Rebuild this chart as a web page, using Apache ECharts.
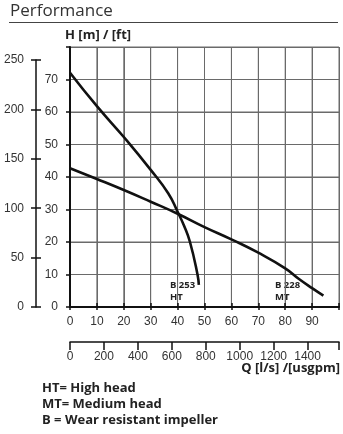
<!DOCTYPE html>
<html>
<head>
<meta charset="utf-8">
<script src="https://cdn.jsdelivr.net/npm/echarts@6/dist/echarts.min.js"></script>
<style>
  html, body { margin: 0; padding: 0; background: #fff; }
  #chart { width: 343px; height: 434px; }
</style>
</head>
<body>
<div id="chart"></div>
<script>
// Pump performance curves: head H [m] against flow Q [l/s]
const htFlow = [0, 10, 20, 30, 36.5, 40, 42.4, 44.6, 47.4, 47.9];
const htHead = [72.1, 61.8, 52.3, 42.2, 35, 29.3, 25, 20, 10, 6.8];

const mtFlow = [0, 10, 20, 30, 40, 50, 60, 70, 80, 85, 90, 94.2];
const mtHead = [42.7, 39.4, 36.0, 32.4, 28.7, 24.6, 20.8, 16.7, 11.9, 8.7, 5.8, 3.5];

// Tick labels of the four scales
const flowTicks = [0, 10, 20, 30, 40, 50, 60, 70, 80, 90];
const headTicks = [0, 10, 20, 30, 40, 50, 60, 70];
const feetTicks = [0, 50, 100, 150, 200, 250];
const gpmTicks = [0, 200, 400, 600, 800, 1000, 1200, 1400];

const flowMax = 100;            // l/s
const headMax = 80;             // m
const gpmMax = flowMax * 15.85; // usgpm at the same right edge
const feetMax = 250;            // ft at the top of the feet scale

const tickFont = { fontFamily: 'Liberation Sans', fontSize: 12, color: '#333' };
const ink = '#111';
const gridGrey = '#6a6a6a';

const pairs = (xs, ys) => xs.map((x, i) => [x, ys[i]]);
// show only the listed tick labels, as plain numbers
const onlyTicks = list => v => (list.indexOf(Math.round(v)) >= 0 && Math.abs(v - Math.round(v)) < 1e-6 ? String(Math.round(v)) : '');

// grid lines of the plot, every 10 l/s and every 10 m (the axes themselves cover 0)
const flowGrid = flowTicks.slice(1).concat([flowMax]);
const headGrid = headTicks.slice(1).concat([headMax]);
const gridSeries = [
  ...flowGrid.map(q => [[q, 0], [q, headMax]]),
  ...headGrid.map(h => [[0, h], [flowMax, h]])
].map(seg => ({
  type: 'line', xAxisIndex: 0, yAxisIndex: 0, data: seg,
  symbol: 'none', silent: true, clip: false, z: 1,
  lineStyle: { color: gridGrey, width: 1 }
}));

const plotBox = { left: 70, top: 47, width: 269, height: 260 };
const feetBox = { left: 36, top: 60, width: 1, height: 247 };

const chart = echarts.init(document.getElementById('chart'));

chart.setOption({
  animation: false,
  backgroundColor: '#fff',
  grid: [
    { ...plotBox },                                   // 0: main plot
    { ...feetBox },                                   // 1: feet scale
    { left: 70, top: 341, width: 269, height: 1 },    // 2: usgpm scale
    { ...plotBox },                                   // 3: inner flow ticks
    { ...feetBox }                                    // 4: inner feet ticks
  ],
  xAxis: [
    {
      gridIndex: 0, type: 'value', min: 0, max: flowMax, interval: 10,
      axisLine: { show: true, lineStyle: { color: ink, width: 2 } },
      axisTick: { show: true, length: 3, lineStyle: { color: ink, width: 1.5 } },
      axisLabel: { formatter: onlyTicks(flowTicks), margin: 9, interval: 0, ...tickFont },
      splitLine: { show: true, lineStyle: { color: gridGrey, width: 1 } },
      z: 3
    },
    { gridIndex: 1, type: 'value', min: 0, max: 1, show: false },
    {
      gridIndex: 2, type: 'value', min: 0, max: gpmMax, interval: 200,
      axisLine: { show: true, lineStyle: { color: ink, width: 1.5 } },
      axisTick: { show: true, length: 8, lineStyle: { color: ink, width: 1.5 } },
      axisLabel: { formatter: onlyTicks(gpmTicks), margin: 9, interval: 0, ...tickFont },
      splitLine: { show: false }
    },
    {
      gridIndex: 3, type: 'value', position: 'bottom', min: 0, max: flowMax, interval: 10,
      axisLine: { show: false },
      axisTick: { show: true, inside: true, length: 4, lineStyle: { color: ink, width: 1.5 } },
      axisLabel: { show: false },
      splitLine: { show: false },
      z: 3
    },
    { gridIndex: 4, type: 'value', min: 0, max: 1, show: false }
  ],
  yAxis: [
    {
      gridIndex: 0, type: 'value', min: 0, max: headMax, interval: 10,
      axisLine: { show: true, lineStyle: { color: ink, width: 2 } },
      axisTick: { show: true, length: 4, lineStyle: { color: ink, width: 1.5 } },
      axisLabel: { formatter: onlyTicks(headTicks), margin: 12, ...tickFont },
      splitLine: { show: true, lineStyle: { color: gridGrey, width: 1 } },
      z: 3
    },
    {
      gridIndex: 1, type: 'value', min: 0, max: feetMax, interval: 50,
      axisLine: { show: true, lineStyle: { color: ink, width: 1.5 } },
      axisTick: { show: true, length: 5, lineStyle: { color: ink, width: 1.5 } },
      axisLabel: { formatter: onlyTicks(feetTicks), margin: 12, ...tickFont },
      splitLine: { show: false }
    },
    { gridIndex: 2, type: 'value', min: 0, max: 1, show: false },
    { gridIndex: 3, type: 'value', min: 0, max: 1, show: false },
    {
      gridIndex: 4, type: 'value', min: 0, max: feetMax, interval: 50,
      axisLine: { show: false },
      axisTick: { show: true, inside: true, length: 5, lineStyle: { color: ink, width: 1.5 } },
      axisLabel: { show: false },
      splitLine: { show: false }
    }
  ],
  series: [
    ...gridSeries,
    {
      name: 'B 253 HT', type: 'line', xAxisIndex: 0, yAxisIndex: 0,
      data: pairs(htFlow, htHead), smooth: 0.5, symbol: 'none',
      lineStyle: { color: ink, width: 2.6 }, z: 5
    },
    {
      name: 'B 228 MT', type: 'line', xAxisIndex: 0, yAxisIndex: 0,
      data: pairs(mtFlow, mtHead), smooth: 0.5, symbol: 'none',
      lineStyle: { color: ink, width: 2.6 }, z: 5
    }
  ],
  graphic: [
    { type: 'text', left: 10, top: 3, style: { text: 'Performance', font: '17px "Open Sans"', fill: '#333' } },
    { type: 'line', shape: { x1: 9, y1: 22.5, x2: 338, y2: 22.5 }, style: { stroke: '#444', lineWidth: 1.2 } },
    { type: 'text', left: 65, top: 29, style: { text: 'H [m] / [ft]', font: 'bold 13px "Open Sans"', fill: '#222' } },
    { type: 'text', right: 3, top: 362, style: { text: 'Q [l/s] /[usgpm]', font: 'bold 13px "Open Sans"', fill: '#222' } },
    { type: 'text', left: 170, top: 280, style: { text: 'B 253\nHT', font: 'bold 9.5px "Open Sans"', fill: '#222', lineHeight: 11.5 } },
    { type: 'text', left: 275, top: 280, style: { text: 'B 228\nMT', font: 'bold 9.5px "Open Sans"', fill: '#222', lineHeight: 11.5 } },
    { type: 'text', left: 42, top: 382, style: { text: 'HT= High head', font: 'bold 13px "Open Sans"', fill: '#222' } },
    { type: 'text', left: 42, top: 398, style: { text: 'MT= Medium head', font: 'bold 13px "Open Sans"', fill: '#222' } },
    { type: 'text', left: 42, top: 414, style: { text: 'B = Wear resistant impeller', font: 'bold 13px "Open Sans"', fill: '#222' } }
  ]
});
</script>
</body>
</html>
